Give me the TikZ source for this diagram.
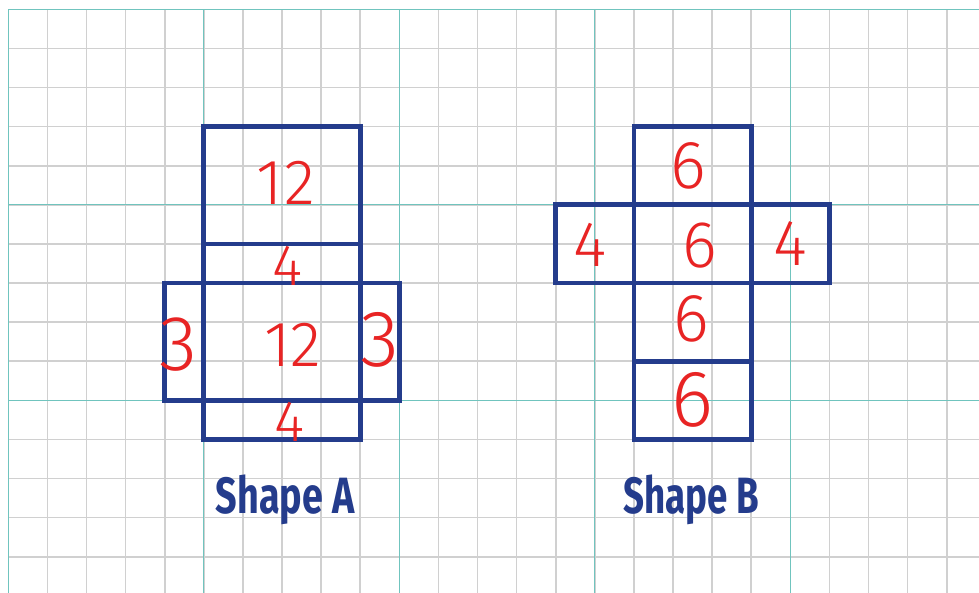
\documentclass[tikz,border=0pt]{standalone}
\usepackage{fontspec}
\newfontfamily\digitfont{Fira Sans Light}
\newfontfamily\titlefont{Fira Sans}
\definecolor{frameblue}{RGB}{36,60,140}
\definecolor{numred}{RGB}{232,36,36}
\definecolor{gridgray}{RGB}{208,208,208}
\definecolor{gridteal}{RGB}{112,196,190}
\tikzset{
  gridline/.style={draw=gridgray, line width=1.6pt},
  majorline/.style={draw=gridteal, line width=1.3pt},
  frame/.style={draw=frameblue, line width=4.8pt},
  num/.style={text=numred, font=\digitfont\fontsize{#1}{#1}\selectfont, inner sep=0pt},
  num/.default=64,
  shapetitle/.style={text=frameblue, inner sep=0pt, anchor=base, font=\titlefont\bfseries\fontsize{51}{51}\selectfont}
}
\begin{document}
\begin{tikzpicture}[x=1pt,y=-1pt]
\useasboundingbox (0,0) rectangle (979,592);
\fill[white] (0,0) rectangle (979,592);
\begin{scope}
  \clip (0,0) rectangle (979,592);
  \foreach \i in {0,...,24} \draw[gridline] ({8.3+39.1*\i},9.3) -- ({8.3+39.1*\i},600);
  \foreach \j in {0,...,15} \draw[gridline] (8.3,{9.3+39.1*\j}) -- (990,{9.3+39.1*\j});
  \foreach \i in {0,5,10,15,20} \draw[majorline] ({8.3+39.1*\i},9.3) -- ({8.3+39.1*\i},600);
  \foreach \j in {0,5,10} \draw[majorline] (8.3,{9.3+39.1*\j}) -- (990,{9.3+39.1*\j});
\end{scope}
\begin{scope}[shift={(8.3,9.3)}, x=39.1pt, y=-39.1pt]
  % Shape A
  \draw[frame] (5,3) rectangle (9,6);
  \draw[frame] (5,6) rectangle (9,7);
  \draw[frame] (4,7) rectangle (10,10);
  \draw[frame] (5,7) rectangle (9,10);
  \draw[frame] (5,10) rectangle (9,11);
  \node[num] (a1) at (7.10,4.44) {1\kern2pt2};
  \node[num=58] (a2) at (7.13,6.55) {4};
  \node[num=78] (a3) at (4.34,8.58) {3};
  \node[num] (a4) at (7.28,8.58) {12};
  \node[num=80] (a5) at (9.51,8.46) {3};
  \node[num=58] (a6) at (7.20,10.55) {4};
  % Shape B
  \draw[frame] (16,3) rectangle (19,5);
  \draw[frame] (14,5) rectangle (21,7);
  \draw[frame] (16,5) rectangle (19,7);
  \draw[frame] (16,7) rectangle (19,9);
  \draw[frame] (16,9) rectangle (19,11);
  \node[num=68] (b1) at (17.38,4.01) {6};
  \node[num=64] (b2) at (14.88,6.03) {4};
  \node[num=66] (b3) at (17.69,6.03) {6};
  \node[num=65] (b4) at (19.99,5.98) {4};
  \node[num=68] (b5) at (17.46,7.92) {6};
  \node[num=80] (b6) at (17.49,9.99) {6};
\end{scope}
\node[shapetitle] (ta) at (285,513) {\scalebox{0.74}[1]{Shape A}};
\node[shapetitle] (tb) at (691,513) {\scalebox{0.72}[1]{Shape B}};
\end{tikzpicture}
\end{document}
